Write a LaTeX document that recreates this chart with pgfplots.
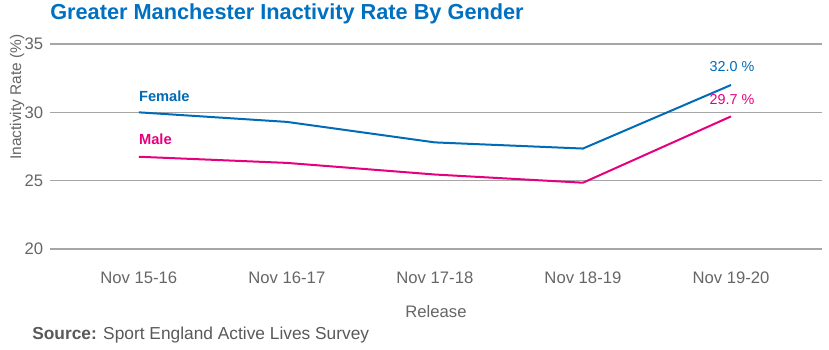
\documentclass[border=0pt]{standalone}
\usepackage{fontspec}
\setmainfont{Liberation Sans}
\usepackage{pgfplots}
\pgfplotsset{compat=1.18}
\definecolor{gmblue}{RGB}{0,107,182}
\definecolor{titleblue}{RGB}{0,112,192}
\definecolor{gmpink}{RGB}{230,0,126}
\definecolor{tickgray}{RGB}{102,102,102}
\definecolor{srcgray}{RGB}{89,89,89}
\definecolor{gridgray}{RGB}{166,166,166}
\pgfplotstableread{
x female male
0 30.0 26.75
1 29.3 26.3
2 27.8 25.45
3 27.35 24.85
4 32.0 29.7
}\gmdata
\begin{document}
\begin{tikzpicture}[x=0.75pt,y=0.75pt]
\path[use as bounding box] (0,0) rectangle (829,350);
\begin{axis}[
  at={(37.5pt,75.75pt)}, anchor=south west,
  scale only axis, width=579pt, height=153.75pt,
  xmin=-0.6, xmax=4.615, ymin=20, ymax=35,
  axis line style={draw=none},
  major tick length=0pt,
  ymajorgrids, grid style={gridgray, line width=1pt},
  xtick={0,1,2,3,4},
  xticklabels={Nov 15-16,Nov 16-17,Nov 17-18,Nov 18-19,Nov 19-20},
  ytick={20,25,30,35},
  /pgf/number format/assume math mode=true,
  tick label style={font=\fontsize{12.5}{15}\selectfont, text=tickgray},
  xticklabel style={anchor=base, inner sep=0pt, yshift=-26.25pt},
  yticklabel style={anchor=east, inner sep=0pt, xshift=-5pt},
  xlabel={Release},
  xlabel style={font=\fontsize{12.5}{15}\selectfont, text=tickgray, at={(axis description cs:0.5,0)}, anchor=base, inner sep=0pt, yshift=-51pt},
  ylabel={Inactivity Rate (\%)},
  ylabel style={font=\fontsize{11.6}{14}\selectfont, text=tickgray, at={(rel axis cs:-0.0427,0.741)}, anchor=center, inner sep=0pt},
  clip=false,
]
\addplot[gmblue, line width=1.5pt] table[x=x, y=female] {\gmdata};
\addplot[gmpink, line width=1.5pt] table[x=x, y=male] {\gmdata};
\node[anchor=base west, inner sep=0pt, font=\fontsize{11}{13}\selectfont\bfseries, text=gmblue] at (axis cs:0,30.76) {Female};
\node[anchor=base west, inner sep=0pt, font=\fontsize{11}{13}\selectfont\bfseries, text=gmpink] at (axis cs:0,27.61) {Male};
\node[anchor=base, inner sep=0pt, font=\fontsize{10.75}{13}\selectfont, text=gmblue] at (axis cs:4.007,32.97) {32.0 \%};
\node[anchor=base, inner sep=0pt, font=\fontsize{10.75}{13}\selectfont, text=gmpink] at (axis cs:4.007,30.59) {29.7 \%};
\end{axis}
\node[anchor=base west, inner sep=0pt, font=\fontsize{16.3}{19}\selectfont\bfseries, text=titleblue] at (50,330) {Greater Manchester Inactivity Rate By Gender};
\node[anchor=base west, inner sep=0pt, font=\fontsize{13}{15}\selectfont, text=srcgray] at (32,10) {\textbf{Source:} Sport England Active Lives Survey};
\end{tikzpicture}
\end{document}
